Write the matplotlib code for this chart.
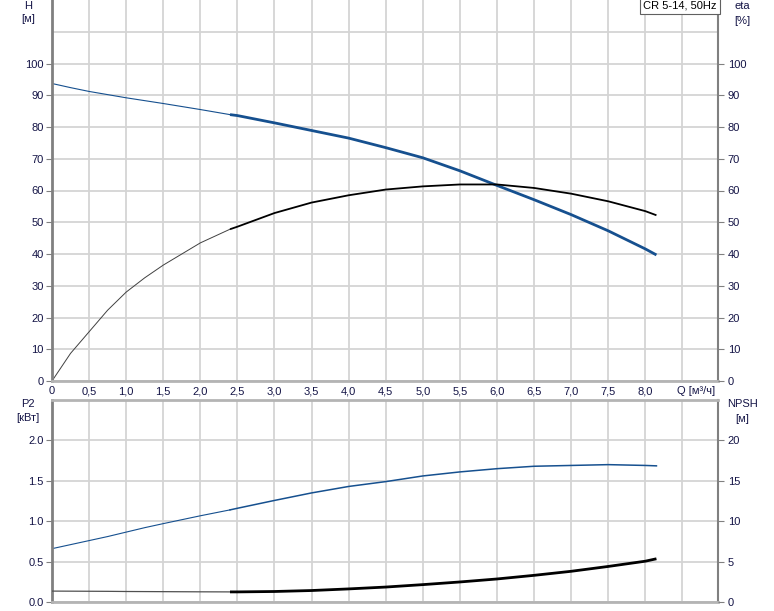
import matplotlib.pyplot as plt
import matplotlib.transforms as mtransforms
import numpy as np

plt.rcParams['font.family'] = ['Liberation Sans', 'DejaVu Sans']
plt.rcParams['font.size'] = 8

# curve data (Q in m3/h)
q = [0, 0.25, 0.5, 0.75, 1.0, 1.25, 1.5, 2.0, 2.4, 2.5, 3.0, 3.5, 4.0, 4.5,
     5.0, 5.5, 6.0, 6.5, 7.0, 7.5, 8.0, 8.15]
head = [93.7, 92.4, 91.2, 90.2, 89.2, 88.3, 87.4, 85.5, 83.9, 83.6, 81.3, 78.9,
        76.5, 73.5, 70.3, 66.2, 61.6, 57.1, 52.4, 47.3, 41.6, 39.7]
eta = [0, 8.7, 15.5, 22.3, 28.0, 32.5, 36.5, 43.5, 47.8, 48.6, 52.9, 56.2,
       58.5, 60.3, 61.3, 61.9, 61.9, 60.8, 59.0, 56.6, 53.5, 52.2]
p2 = [0.66, 0.71, 0.76, 0.81, 0.865, 0.92, 0.97, 1.067, 1.14, 1.16, 1.257, 1.35,
      1.43, 1.49, 1.56, 1.61, 1.65, 1.68, 1.69, 1.70, 1.69, 1.685]
npsh = [1.35, 1.34, 1.33, 1.32, 1.30, 1.29, 1.28, 1.26, 1.25, 1.25, 1.30, 1.42,
        1.62, 1.85, 2.15, 2.48, 2.85, 3.30, 3.80, 4.40, 5.05, 5.35]
q_duty = 2.4  # start of thick (operating) range

x_ticks = np.arange(0, 8.01, 0.5)
x_labels = ['0'] + [f'{v:.1f}'.replace('.', ',') for v in x_ticks[1:]]
h_ticks = list(range(0, 101, 10))
p2_ticks = [0.0, 0.5, 1.0, 1.5, 2.0]
npsh_ticks = [0, 5, 10, 15, 20]

BLUE = '#16508f'
TXT = '#141446'
GRID = '#d4d4d4'
DARK = '#808080'
LIGHT = '#b4b4b4'

fig = plt.figure(figsize=(7.74, 6.11), dpi=100)
W, H = 774, 611
ax1 = fig.add_axes([52 / W, (H - 381) / H, 666 / W, 381 / H])
ax2 = fig.add_axes([52 / W, (H - 602) / H, 666 / W, 202 / H])

q = np.array(q)
thin = q <= q_duty
thick = q >= q_duty


def style(ax, ymax, yticks, extra_grid):
    ax.set_xlim(0, 8.98)
    ax.set_ylim(0, ymax)
    ax.set_xticks(np.arange(0, 8.99, 0.5))
    ax.set_yticks(yticks)
    ax.grid(True, color=GRID, lw=1.3)
    ax.axhline(extra_grid, color=GRID, lw=1.3, zorder=0)
    ax.set_axisbelow(True)
    ax.spines['left'].set_color(DARK)
    ax.spines['left'].set_linewidth(2)
    ax.spines['right'].set_color(DARK)
    ax.spines['right'].set_linewidth(1.5)
    ax.spines['bottom'].set_color(LIGHT)
    ax.spines['bottom'].set_linewidth(2)
    ax.tick_params(axis='x', length=0, labelbottom=False)
    ax.tick_params(axis='y', length=4, color=DARK, labelcolor=TXT, pad=2)


# top chart: H and eta
style(ax1, 120, h_ticks, 110)
ax1.spines['top'].set_visible(False)
ax1.plot(q[thin], np.array(head)[thin], color=BLUE, lw=0.8)
ax1.plot(q[thick], np.array(head)[thick], color=BLUE, lw=2.0, solid_capstyle='butt')
ax1.plot(q[thin], np.array(eta)[thin], color='#404040', lw=0.7)
ax1.plot(q[thick], np.array(eta)[thick], color='black', lw=1.3, solid_capstyle='butt')
ax1r = ax1.twinx()
ax1r.set_ylim(0, 120)
ax1r.set_yticks(h_ticks)
ax1r.tick_params(axis='y', length=4, color=DARK, labelcolor=TXT, pad=3)
for s in ax1r.spines.values():
    s.set_visible(False)

tr = mtransforms.blended_transform_factory(ax1.transData, fig.transFigure)
for xv, lab in zip(x_ticks, x_labels):
    ax1.text(xv, 1 - 391 / H, lab, transform=tr, ha='center', va='center', color=TXT)
ax1.text(8.43, 1 - 391 / H, 'Q [м³/ч]', transform=tr, ha='left', va='center', color=TXT)

ax1.text(0.998, 0.999, 'CR 5-14, 50Hz', transform=ax1.transAxes, ha='right', va='top',
         color='black', fontsize=8,
         bbox=dict(boxstyle='square,pad=0.3', fc='white', ec='#606060', lw=0.8))

# bottom chart: P2 and NPSH
style(ax2, 2.5, p2_ticks, 2.5)
ax2.spines['top'].set_color(LIGHT)
ax2.spines['top'].set_linewidth(2)
ax2.set_yticklabels([f'{v:.1f}' for v in p2_ticks])
ax2.plot(q[thin], np.array(p2)[thin], color=BLUE, lw=0.8)
ax2.plot(q[thick], np.array(p2)[thick], color=BLUE, lw=1.1)
ax2r = ax2.twinx()
ax2r.set_ylim(0, 25)
ax2r.set_yticks(npsh_ticks)
ax2r.tick_params(axis='y', length=4, color=DARK, labelcolor=TXT, pad=3)
for s in ax2r.spines.values():
    s.set_visible(False)
ax2r.plot(q[thin], np.array(npsh)[thin], color='#505050', lw=0.9)
ax2r.plot(q[thick], np.array(npsh)[thick], color='black', lw=2.0, solid_capstyle='butt')


# axis titles
def ftext(x, y, s):
    fig.text(x / W, 1 - y / H, s, ha='center', va='center', color=TXT, fontsize=8)


ftext(28, 6, 'H')
ftext(28, 19, '[м]')
ftext(742, 6, 'eta')
ftext(742, 21, '[%]')
ftext(28, 404, 'P2')
ftext(28, 418, '[кВт]')
ftext(742, 404, 'NPSH')
ftext(742, 419, '[м]')

fig.savefig('out.png', dpi=100)
